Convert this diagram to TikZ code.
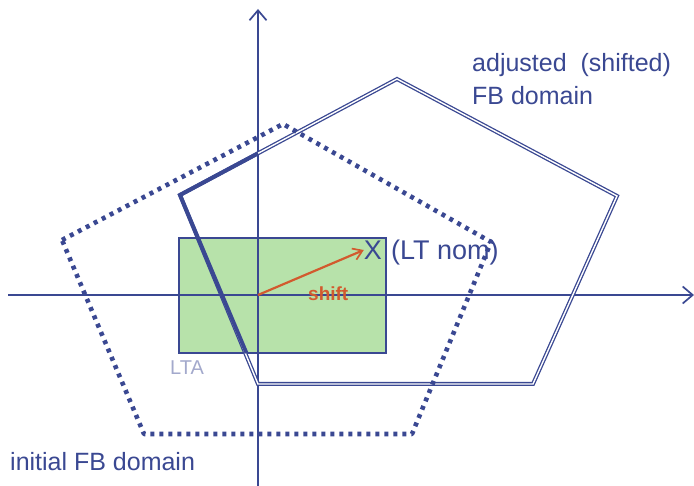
\documentclass[tikz,border=0pt]{standalone}
\usepackage{fontspec}
\setmainfont{Liberation Sans}
\usetikzlibrary{arrows.meta}
\definecolor{ink}{HTML}{3A4892}
\definecolor{lta}{HTML}{B7E2AA}
\definecolor{ltatext}{HTML}{A3A9CC}
\definecolor{shiftred}{HTML}{D25A2E}
\tikzset{
  axis/.style={draw=ink, line width=2pt, -{Straight Barb[length=10pt,width=17pt,line width=1.7pt]}},
  dotpoly/.style={draw=ink, line width=4.6pt, dash pattern=on 4pt off 5pt, line join=round},
  dblpoly/.style={draw=ink, double=white, line width=1.3pt, double distance=1.4pt, line join=miter},
  thickpart/.style={draw=ink, line width=3.8pt, line join=miter},
  lbl/.style={text=ink, font=\fontsize{25}{30}\selectfont, inner sep=0pt, anchor=base west},
}
\begin{document}
\begin{tikzpicture}[x=1pt,y=-1pt]
\useasboundingbox (0,0) rectangle (694,486);
% coordinates
\coordinate (o) at (258,295);
\coordinate (xs) at (8,295);
\coordinate (xe) at (694,295);
\coordinate (ys) at (258,486);
\coordinate (ye) at (258,9);
% LTA rectangle
\draw[fill=lta, draw=ink, line width=1.2pt] (179,238) rectangle (386,353);
% axes
\draw[axis] (xs) -- (xe);
\draw[axis] (ys) -- (ye);
% adjusted (shifted) FB domain
\coordinate (a1) at (180,195);
\coordinate (a2) at (397,79);
\coordinate (a3) at (617,196);
\coordinate (a4) at (533,384);
\coordinate (a5) at (258,384);
\draw[dblpoly] (a1) -- (a2) -- (a3) -- (a4) -- (a5) -- cycle;
\coordinate (t1) at (258,153.3);
\coordinate (t2) at (246.5,353);
\draw[thickpart] (t1) -- (a1) -- (t2);
% initial FB domain
\coordinate (d1) at (62,240);
\coordinate (d2) at (283,124);
\coordinate (d3) at (491,242);
\coordinate (d4) at (412,434);
\coordinate (d5) at (144,434);
\draw[dotpoly] (d1) -- (d2) -- (d3) -- (d4) -- (d5) -- cycle;
% LT nom
\node[text=ink, font=\fontsize{27}{30}\selectfont, inner sep=0pt] (lt) at (373,250) {X};
\node[lbl, font=\fontsize{27}{30}\selectfont] (ltnom) at (391,260) {(LT nom)};
\draw[shiftred, line width=2.2pt, -{Straight Barb[length=9pt,width=12pt,line width=1.7pt]}] (o) -- (lt.west);
\node[lbl, text=shiftred, font=\bfseries\fontsize{19}{24}\selectfont] (shift) at (308,301) {shift};
\node[lbl, text=ltatext, font=\fontsize{20}{24}\selectfont] (ltal) at (170,375) {LTA};
% labels
\node[lbl] (adj1) at (472,72) {adjusted\ \ (shifted)};
\node[lbl] (adj2) at (472,105) {FB domain};
\node[lbl] (init) at (10,471) {initial FB domain};
\end{tikzpicture}
\end{document}
